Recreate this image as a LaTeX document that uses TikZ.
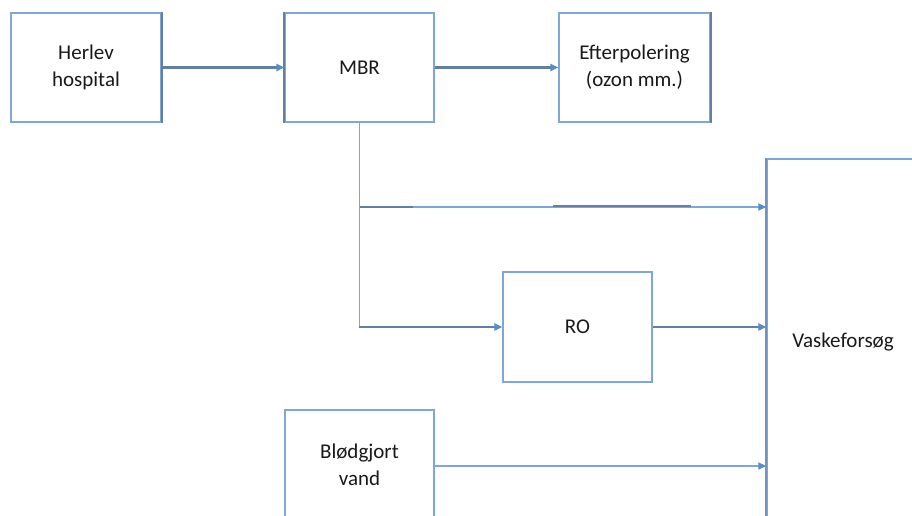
\documentclass[tikz,border=0pt]{standalone}
\usepackage{fontspec}
\setmainfont{Carlito}
\usetikzlibrary{arrows.meta,calc}
\definecolor{boxblue}{RGB}{128,166,214}
\definecolor{darkline}{RGB}{100,128,160}
\definecolor{edgeblue}{RGB}{112,148,190}
\definecolor{tipblue}{RGB}{88,140,200}
\definecolor{txt}{RGB}{25,25,25}
\tikzset{
  x=1pt,y=1pt,
  blk/.style={draw=boxblue,line width=1.3pt,fill=white,inner sep=0pt,
    font=\fontsize{21}{27}\selectfont,text=txt,align=center},
  darrow/.style={draw=darkline,line width=2.2pt,-{Triangle[length=8pt,width=7pt,color=tipblue]}},
  larrow/.style={draw=boxblue,line width=1.4pt,-{Triangle[length=8pt,width=7pt,color=tipblue]}},
  lline/.style={draw=boxblue,line width=1.6pt},
  dedge/.style={draw=darkline,line width=2pt}
}
\begin{document}
\begin{tikzpicture}
\useasboundingbox (0,0) rectangle (912,516);
\clip (0,0) rectangle (912,516);
\fill[white] (0,0) rectangle (912,516);
% boxes
\node[blk,minimum width=150,minimum height=109] (herlev) at (86,448.5) {Herlev\\hospital};
\node[blk,minimum width=149,minimum height=109] (mbr) at (359.5,448.5) {MBR};
\node[blk,minimum width=151,minimum height=109] (efter) at (634.5,448.5) {Efterpolering\\(ozon mm.)};
\node[blk,minimum width=149,minimum height=110] (ro) at (577.5,189) {RO};
\node[blk,minimum width=149,minimum height=110] (blod) at (359.5,51) {Blødgjort\\vand};
\node[blk,minimum width=152,minimum height=366] (vask) at (843,174) {Vaskeforsøg};
% darker edges
\draw[dedge] (herlev.north east) -- (herlev.south east);
\draw[dedge] (mbr.north west) -- (mbr.south west);
\draw[dedge] (efter.north east) -- (efter.south east);
\draw[dedge,draw=edgeblue] (vask.north west) -- (vask.south west);
% connectors
\draw[darrow] (herlev.east) -- (mbr.west);
\draw[darrow] (mbr.east) -- (efter.west);
\coordinate (br) at (359.5,309);
\coordinate (corner) at (br |- ro.west);
\draw[lline] (mbr.south) -- (corner);
\draw[darrow,shorten <=-0.8pt] (corner) -- (ro.west);
\draw[larrow] (br) -- (br -| vask.west);
\draw[dedge,line width=2.2pt] (br) -- ++(53,0);
\draw[dedge,line width=2.2pt] ($(br)+(193,1)$) -- ++(138,0);
\draw[darrow] (ro.east) -- (ro.east -| vask.west);
\draw[larrow] ($(blod.east)+(0,-1)$) -- ($(blod.east -| vask.west)+(0,-1)$);
\end{tikzpicture}
\end{document}
